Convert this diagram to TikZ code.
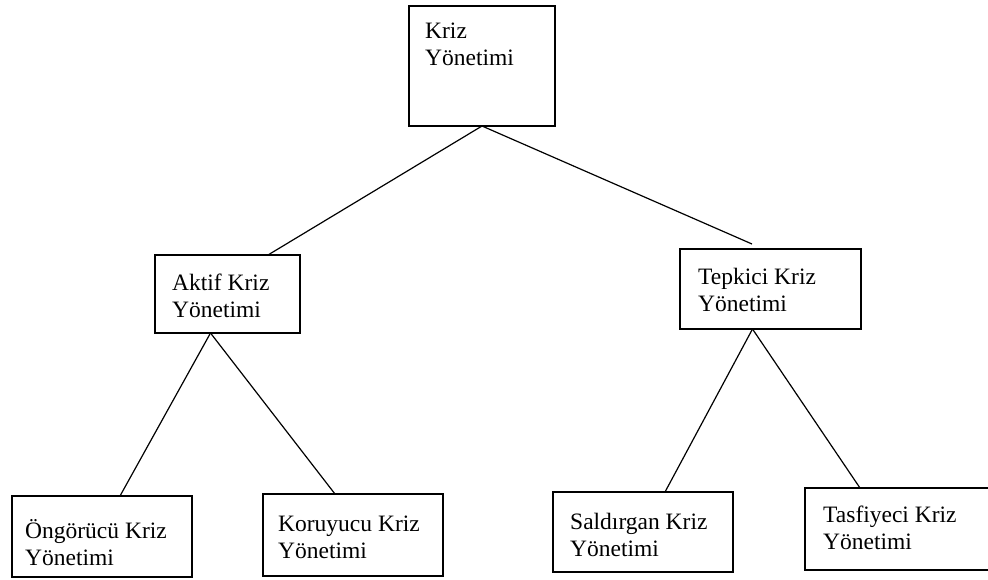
\documentclass[tikz,border=0pt]{standalone}
\usepackage{fontspec}
\setmainfont{Liberation Serif}

\begin{document}
\begin{tikzpicture}[x=1pt,y=-1pt,
    kutu/.style={draw,line width=1.2pt,inner sep=0pt,outer sep=0pt},
    yazi/.style={anchor=north west,inner sep=0pt,align=left,
      font=\fontsize{23.5}{27}\selectfont,execute at begin node=\strut},
    bag/.style={line width=1.2pt}]
  \useasboundingbox (0,0) rectangle (988,579);
  % boxes
  \node[kutu,minimum width=146pt,minimum height=120pt] (kriz) at (482,66) {};
  \node[kutu,minimum width=145pt,minimum height=78pt] (aktif) at (227.5,294) {};
  \node[kutu,minimum width=181pt,minimum height=80pt] (tepki) at (770.5,289) {};
  \node[kutu,minimum width=180pt,minimum height=81pt] (ongor) at (102,536.5) {};
  \node[kutu,minimum width=180pt,minimum height=82pt] (koru) at (353,535) {};
  \node[kutu,minimum width=180pt,minimum height=80pt] (sald) at (643,532) {};
  \node[kutu,minimum width=190pt,minimum height=82pt] (tasf) at (900,529) {};
  % texts
  \node[yazi] (krizy) at (425,23.1) {Kriz\\Yönetimi};
  \node[yazi] (aktify) at (172,274.1) {Aktif Kriz\\Yönetimi};
  \node[yazi] (tepkiy) at (698,268.1) {Tepkici Kriz\\Yönetimi};
  \node[yazi] (ongory) at (25,519.1) {Öngörücü Kriz\\Yönetimi};
  \node[yazi] (koruy) at (278,516.1) {Koruyucu Kriz\\Yönetimi};
  \node[yazi] (saldy) at (570,513.1) {Saldırgan Kriz\\Yönetimi};
  \node[yazi] (tasfy) at (823,506.1) {Tasfiyeci Kriz\\Yönetimi};
  % connectors
  \coordinate (tepucu) at (752,244);
  \draw[bag] (kriz.south) -- ([xshift=-32pt]aktif.north east);
  \draw[bag] (kriz.south) -- (tepucu);
  \draw[bag] ([xshift=-17pt]aktif.south) -- ([xshift=18pt]ongor.north);
  \draw[bag] ([xshift=-17pt]aktif.south) -- ([xshift=-18pt]koru.north);
  \draw[bag] ([xshift=-18pt]tepki.south) -- ([xshift=22pt]sald.north);
  \draw[bag] ([xshift=-18pt]tepki.south) -- ([xshift=55pt]tasf.north west);
\end{tikzpicture}
\end{document}
